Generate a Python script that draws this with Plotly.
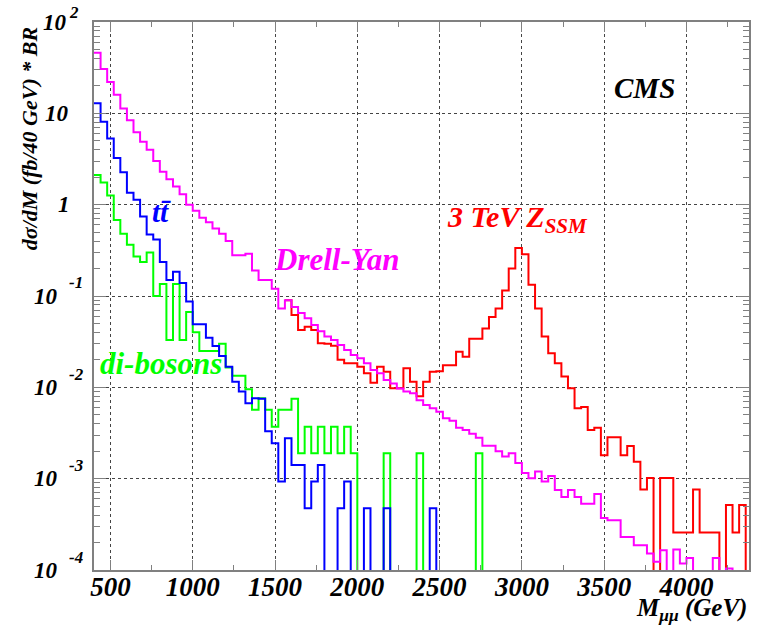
import numpy as np
import plotly.graph_objects as go

# 40 GeV mass bins starting at 400 GeV
BIN_LO = 400
BIN_W = 40
N_BINS = 100

# dsigma/dM * BR  (fb / 40 GeV), one value per bin
drell_yan = [
    46, 30.5, 22, 16, 11.3, 8.4, 6.2, 4.9, 4.0, 3.0,
    2.3, 1.9, 1.58, 1.3, 1.0, 0.86, 0.72, 0.64, 0.55, 0.48,
    0.40, 0.28, 0.28, 0.29, 0.19, 0.15, 0.15, 0.12, 0.073, 0.09,
    0.076, 0.065, 0.057, 0.048, 0.041, 0.036, 0.033, 0.029, 0.0256, 0.0226,
    0.0208, 0.0183, 0.0155, 0.0143, 0.012, 0.011, 0.0097, 0.0090, 0.0086, 0.0072,
    0.0064, 0.0059, 0.0054, 0.0046, 0.0043, 0.0036, 0.0034, 0.0031, 0.0028, 0.0023,
    0.0023, 0.0020, 0.00175, 0.0019, 0.00148, 0.00115, 0.00101, 0.0012, 0.00093, 0.00107,
    0.00075, 0.00063, 0.00075, 0.00063, 0.00053, 0.00053, 0.00068, 0.00037, 0.00035, 0.00035,
    0.00023, 0.00023, 0.000187, 0.000187, 0.000152, 0.000123, 0.000165, 0, 0.000168, 0.000118,
    0.000135, 0, 0, 0, 0.000135, 0, 0.000104, 0, 0, 0,
]

ttbar = [
    12.9, 8.1, 5.3, 3.25, 2.27, 1.35, 1.13, 0.74, 0.47, 0.415,
    0.235, 0.15, 0.184, 0.139, 0.087, 0.049, 0.049, 0.035, 0.0283, 0.022,
    0.0168, 0.0115, 0.009, 0.0067, 0.0076, 0.0075, 0.0033, 0.00244, 0.00093, 0.00277,
    0.00141, 0.00141, 0.000473, 0.00093, 0.00141, 0, 0, 0.000473, 0.00093, 0,
    0, 0.000473, 0, 0, 0.000473, 0, 0, 0, 0, 0,
    0, 0.000473, 0, 0, 0, 0, 0, 0, 0, 0,
] + [0] * 40

dibosons = [
    2.11, 1.75, 1.26, 0.68, 0.48, 0.365, 0.27, 0.235, 0.30, 0.10,
    0.135, 0.033, 0.135, 0.033, 0.067, 0.040, 0.025, 0.025, 0.025, 0.030,
    0.0165, 0.0134, 0.0134, 0.0095, 0.0057, 0.0076, 0.0057, 0.0037, 0.0057, 0.0057,
    0.0075, 0.0019, 0.0037, 0.0019, 0.0037, 0.0019, 0.0037, 0.0019, 0.0037, 0.0019,
    0, 0, 0, 0, 0.0019, 0, 0, 0, 0, 0.0019,
    0, 0, 0, 0, 0, 0, 0, 0, 0.0019, 0,
] + [0] * 40

# 3 TeV Z'_SSM sample, filled from bin 29 (1560 GeV) upwards
zssm_first_bin = 29
zssm = [
    0.09, 0.062, 0.0425, 0.046, 0.0425, 0.0303, 0.030, 0.0286, 0.020, 0.0183,
    0.0183, 0.0168, 0.0143, 0.0112, 0.0168, 0.0148, 0.0098, 0.0098, 0.0162, 0.0115,
    0.0080, 0.0115, 0.0148, 0.015, 0.0175, 0.0175, 0.0245, 0.0216, 0.034, 0.034,
    0.044, 0.059, 0.073, 0.115, 0.20, 0.335, 0.286, 0.133, 0.073, 0.036,
    0.0236, 0.0183, 0.0131, 0.0098, 0.0059, 0.0061, 0.0034, 0.0036, 0.0018, 0.00284,
    0.00284, 0.0018, 0.00228, 0.00153, 0.00076, 0.00102, 0, 0.00102, 0.00102, 0.000257,
    0.000257, 0.000257, 0.00076, 0.000257, 0.000257, 0.000257, 0, 0.000514, 0.000257, 0.000514,
    0,
]

x_ticks = [500, 1000, 1500, 2000, 2500, 3000, 3500, 4000]
decades = [-4, -3, -2, -1, 0, 1, 2]

# canvas geometry (pixels)
FIG_W, FIG_H = 760, 627
L, R, T, B = 94, 9, 22, 57
PW, PH = FIG_W - L - R, FIG_H - T - B


def xp(px):
    return (px - L) / PW


def yp(py):
    return (FIG_H - B - py) / PH


def font(size, color="black"):
    return dict(family="Liberation Serif", size=size, color=color,
                weight="bold", style="italic")


def step_trace(values, first_bin, color):
    vals = np.asarray(values, dtype=float)
    edges = BIN_LO + BIN_W * np.arange(first_bin, first_bin + len(vals) + 1)
    # empty bins drop below the frame, like an unfilled histogram outline
    y = np.where(vals > 0, vals, 1e-9)
    y = np.append(y, y[-1])
    return go.Scatter(x=edges, y=y, mode="lines", line_shape="hv",
                      line=dict(color=color, width=2), hoverinfo="skip",
                      showlegend=False)


fig = go.Figure()
fig.add_trace(step_trace(zssm, zssm_first_bin, "#ff0000"))
fig.add_trace(step_trace(dibosons, 0, "#00ff00"))
fig.add_trace(step_trace(ttbar, 0, "#0000ff"))
fig.add_trace(step_trace(drell_yan, 0, "#ff00ff"))

frame = "#808080"
fig.update_xaxes(
    range=[400, 4380], tickvals=x_ticks, ticktext=[str(v) for v in x_ticks],
    ticks="inside", ticklen=10, tickcolor=frame, tickwidth=1,
    minor=dict(ticks="inside", ticklen=5, dtick=250, tick0=0, tickcolor=frame, showgrid=False),
    showline=True, linecolor=frame, linewidth=2, mirror="allticks",
    showgrid=True, gridcolor="#444444", griddash="dot", gridwidth=1,
    tickfont=font(27), ticklabelstandoff=-8, zeroline=False,
)
fig.update_yaxes(
    type="log", range=[-4, 2], dtick=1, showticklabels=False,
    ticks="inside", ticklen=12, tickcolor=frame, tickwidth=1,
    minor=dict(ticks="inside", ticklen=6, dtick="D1", tickcolor=frame, showgrid=False),
    showline=True, linecolor=frame, linewidth=2, mirror="allticks",
    showgrid=True, gridcolor="#444444", griddash="dot", gridwidth=1,
    zeroline=False,
)


def decade_y(d):
    # pixel row of a decade on the log axis
    return T + PH * (2 - d) / 6


ann = []
# y-axis decade labels: "10" with the exponent raised beside it
for d in decades:
    yc = decade_y(d)
    if d == 0:
        base, left = "1", 56
    elif d == 1:
        base, left = "10", 43
    elif d == 2:
        base, left = "10", 41
    else:
        base, left = "10", 32
    ann.append(dict(x=xp(left), y=yp(yc), xref="paper", yref="paper", text=base,
                    xanchor="left", yanchor="middle", showarrow=False, font=font(23)))
    if d < 0 or d == 2:
        ann.append(dict(x=xp(67), y=yp(yc - (13 if d < 0 else 9)), xref="paper",
                        yref="paper", text=str(d), xanchor="left", yanchor="middle",
                        showarrow=False, font=font(17)))

# axis titles
ann.append(dict(x=xp(29), y=yp(139), xref="paper", yref="paper",
                text="dσ/dM (fb/40 GeV) * BR", textangle=-90,
                xanchor="center", yanchor="middle", showarrow=False, font=font(22)))
ann.append(dict(x=xp(751), y=yp(627), xref="paper", yref="paper",
                text="M<sub>μμ</sub> (GeV)", xanchor="right", yanchor="bottom",
                showarrow=False, font=font(25)))

# in-frame labels
ann.append(dict(x=xp(646), y=yp(88), xref="paper", yref="paper", text="CMS",
                xanchor="center", yanchor="middle", showarrow=False, font=font(29)))
ann.append(dict(x=xp(446), y=yp(219), xref="paper", yref="paper",
                text="3 TeV Z<sub>SSM</sub>", xanchor="left", yanchor="middle",
                showarrow=False, font=font(30, "#ff0000")))
ann.append(dict(x=xp(273), y=yp(259), xref="paper", yref="paper", text="Drell-Yan",
                xanchor="left", yanchor="middle", showarrow=False,
                font=font(31, "#ff00ff")))
ann.append(dict(x=xp(150), y=yp(212), xref="paper", yref="paper", text="tt\u0304",
                xanchor="left", yanchor="middle", showarrow=False,
                font=font(29, "#0000ff")))
ann.append(dict(x=xp(98), y=yp(363), xref="paper", yref="paper", text="di-bosons",
                xanchor="left", yanchor="middle", showarrow=False,
                font=font(31, "#00ff00")))

fig.update_layout(
    width=FIG_W, height=FIG_H, autosize=False,
    margin=dict(l=L, r=R, t=T, b=B, pad=0),
    paper_bgcolor="white", plot_bgcolor="white",
    annotations=ann, showlegend=False,
)

fig.write_html("out.html")
